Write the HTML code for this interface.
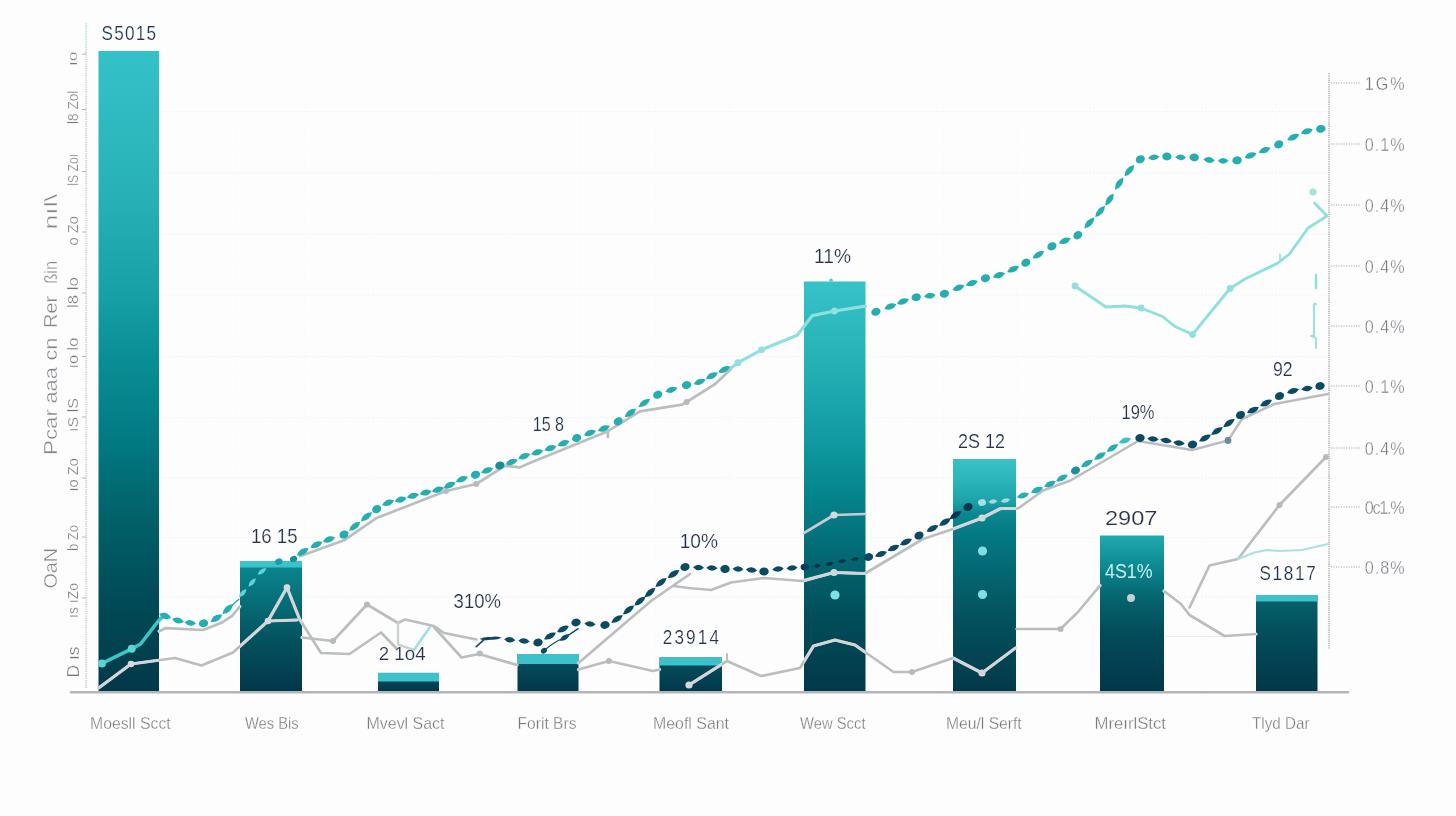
<!DOCTYPE html>
<html lang="en"><head><meta charset="utf-8"><title>Chart</title>
<style>
html,body{margin:0;padding:0;background:#fdfdfd;}
body{width:1456px;height:816px;overflow:hidden;}
svg{display:block;}
text{font-family:"Liberation Sans",sans-serif;}
.v{fill:#25334a;font-size:19.5px;stroke:#fdfdfd;stroke-width:0.2px;}
.x{fill:#777b7f;font-size:17px;stroke:#fdfdfd;stroke-width:0.3px;}
.r{fill:#6f757c;font-size:18px;stroke:#fdfdfd;stroke-width:0.4px;}
.t{fill:#71767b;font-size:14.5px;stroke:#fdfdfd;stroke-width:0.3px;}
.ti{fill:#80858a;font-size:18.5px;stroke:#fdfdfd;stroke-width:0.35px;}
</style></head><body>
<svg width="1456" height="816" viewBox="0 0 1456 816" role="img" aria-label="Bar and line chart">
<defs>
<linearGradient id="gTall" x1="0" y1="0" x2="0" y2="1"><stop offset="0" stop-color="#35c1c8"/><stop offset="0.22" stop-color="#28b2b8"/><stop offset="0.37" stop-color="#18a2a8"/><stop offset="0.48" stop-color="#0a8e95"/><stop offset="0.6" stop-color="#027b83"/><stop offset="0.73" stop-color="#016169"/><stop offset="0.855" stop-color="#004b57"/><stop offset="1" stop-color="#02394a"/></linearGradient>
<linearGradient id="gTall6" x1="0" y1="0" x2="0" y2="1"><stop offset="0" stop-color="#37c1c8"/><stop offset="0.175" stop-color="#28b3b9"/><stop offset="0.394" stop-color="#1099a0"/><stop offset="0.511" stop-color="#05868e"/><stop offset="0.65" stop-color="#036c76"/><stop offset="0.82" stop-color="#014d59"/><stop offset="1" stop-color="#02394a"/></linearGradient>
<linearGradient id="g7" x1="0" y1="0" x2="0" y2="1"><stop offset="0" stop-color="#3ac1c7"/><stop offset="0.1" stop-color="#2ab3b9"/><stop offset="0.18" stop-color="#1ea2a9"/><stop offset="0.235" stop-color="#0b888f"/><stop offset="0.32" stop-color="#037a83"/><stop offset="0.42" stop-color="#046e78"/><stop offset="0.6" stop-color="#035a66"/><stop offset="0.72" stop-color="#034e5b"/><stop offset="1" stop-color="#02394a"/></linearGradient>
<linearGradient id="g8" x1="0" y1="0" x2="0" y2="1"><stop offset="0" stop-color="#21aab1"/><stop offset="0.16" stop-color="#0f8f97"/><stop offset="0.4" stop-color="#05646f"/><stop offset="0.63" stop-color="#034b59"/><stop offset="1" stop-color="#02374a"/></linearGradient>
<linearGradient id="gS" x1="0" y1="0" x2="0" y2="1"><stop offset="0" stop-color="#0a8991"/><stop offset="0.3" stop-color="#066f79"/><stop offset="0.6" stop-color="#04525f"/><stop offset="1" stop-color="#02374a"/></linearGradient>
<linearGradient id="gS9" x1="0" y1="0" x2="0" y2="1"><stop offset="0" stop-color="#06646e"/><stop offset="0.45" stop-color="#034b58"/><stop offset="1" stop-color="#02374a"/></linearGradient>
<linearGradient id="gXS" x1="0" y1="0" x2="0" y2="1"><stop offset="0" stop-color="#06525f"/><stop offset="1" stop-color="#02374a"/></linearGradient>
</defs>
<rect width="1456" height="816" fill="#fdfdfd"/>
<line x1="162" y1="111.5" x2="1326" y2="111.5" stroke="#f1f1f1" stroke-width="1" stroke-dasharray="1.5 2"/>
<line x1="162" y1="172.8" x2="1326" y2="172.8" stroke="#f1f1f1" stroke-width="1" stroke-dasharray="1.5 2"/>
<line x1="162" y1="234" x2="1326" y2="234" stroke="#f1f1f1" stroke-width="1" stroke-dasharray="1.5 2"/>
<line x1="162" y1="295" x2="1326" y2="295" stroke="#f1f1f1" stroke-width="1" stroke-dasharray="1.5 2"/>
<line x1="162" y1="356.6" x2="1326" y2="356.6" stroke="#f1f1f1" stroke-width="1" stroke-dasharray="1.5 2"/>
<line x1="162" y1="417.7" x2="1326" y2="417.7" stroke="#f1f1f1" stroke-width="1" stroke-dasharray="1.5 2"/>
<line x1="162" y1="478" x2="1326" y2="478" stroke="#f1f1f1" stroke-width="1" stroke-dasharray="1.5 2"/>
<line x1="162" y1="537.5" x2="1326" y2="537.5" stroke="#f1f1f1" stroke-width="1" stroke-dasharray="1.5 2"/>
<line x1="162" y1="597" x2="1326" y2="597" stroke="#f1f1f1" stroke-width="1" stroke-dasharray="1.5 2"/>
<line x1="235" y1="100" x2="235" y2="690" stroke="#f8f8f8" stroke-width="1" stroke-dasharray="1.5 2"/>
<line x1="304.5" y1="100" x2="304.5" y2="690" stroke="#f8f8f8" stroke-width="1" stroke-dasharray="1.5 2"/>
<line x1="373" y1="100" x2="373" y2="690" stroke="#f8f8f8" stroke-width="1" stroke-dasharray="1.5 2"/>
<line x1="437" y1="100" x2="437" y2="690" stroke="#f8f8f8" stroke-width="1" stroke-dasharray="1.5 2"/>
<line x1="510" y1="100" x2="510" y2="690" stroke="#f8f8f8" stroke-width="1" stroke-dasharray="1.5 2"/>
<line x1="580" y1="100" x2="580" y2="690" stroke="#f8f8f8" stroke-width="1" stroke-dasharray="1.5 2"/>
<line x1="655" y1="100" x2="655" y2="690" stroke="#f8f8f8" stroke-width="1" stroke-dasharray="1.5 2"/>
<line x1="728" y1="100" x2="728" y2="690" stroke="#f8f8f8" stroke-width="1" stroke-dasharray="1.5 2"/>
<line x1="943" y1="100" x2="943" y2="690" stroke="#f8f8f8" stroke-width="1" stroke-dasharray="1.5 2"/>
<line x1="1017" y1="100" x2="1017" y2="690" stroke="#f8f8f8" stroke-width="1" stroke-dasharray="1.5 2"/>
<line x1="1090" y1="100" x2="1090" y2="690" stroke="#f8f8f8" stroke-width="1" stroke-dasharray="1.5 2"/>
<line x1="1166" y1="100" x2="1166" y2="690" stroke="#f8f8f8" stroke-width="1" stroke-dasharray="1.5 2"/>
<line x1="1202" y1="100" x2="1202" y2="690" stroke="#f8f8f8" stroke-width="1" stroke-dasharray="1.5 2"/>
<line x1="1276" y1="100" x2="1276" y2="690" stroke="#f8f8f8" stroke-width="1" stroke-dasharray="1.5 2"/>
<line x1="1166" y1="636.6" x2="1225" y2="636.6" stroke="#ebebeb" stroke-width="1"/>
<line x1="86" y1="23" x2="86" y2="52" stroke="#a6e2e3" stroke-width="1.3" stroke-dasharray="1.6 1"/>
<line x1="86" y1="52" x2="86" y2="688" stroke="#b2b6b9" stroke-width="1.1" stroke-dasharray="1.2 1.1"/>
<line x1="1329" y1="73" x2="1329" y2="649" stroke="#a3a8ad" stroke-width="1.3" stroke-dasharray="1.3 0.9"/>
<line x1="1331" y1="83" x2="1360" y2="83" stroke="#a4a9ad" stroke-width="1.1" stroke-dasharray="1.2 1.3"/>
<line x1="1331" y1="144" x2="1360" y2="144" stroke="#a4a9ad" stroke-width="1.1" stroke-dasharray="1.2 1.3"/>
<line x1="1331" y1="205" x2="1360" y2="205" stroke="#a4a9ad" stroke-width="1.1" stroke-dasharray="1.2 1.3"/>
<line x1="1331" y1="266" x2="1360" y2="266" stroke="#a4a9ad" stroke-width="1.1" stroke-dasharray="1.2 1.3"/>
<line x1="1331" y1="326" x2="1360" y2="326" stroke="#a4a9ad" stroke-width="1.1" stroke-dasharray="1.2 1.3"/>
<line x1="1331" y1="386" x2="1360" y2="386" stroke="#a4a9ad" stroke-width="1.1" stroke-dasharray="1.2 1.3"/>
<line x1="1331" y1="448" x2="1360" y2="448" stroke="#a4a9ad" stroke-width="1.1" stroke-dasharray="1.2 1.3"/>
<line x1="1331" y1="507" x2="1360" y2="507" stroke="#a4a9ad" stroke-width="1.1" stroke-dasharray="1.2 1.3"/>
<line x1="1331" y1="567" x2="1360" y2="567" stroke="#a4a9ad" stroke-width="1.1" stroke-dasharray="1.2 1.3"/>
<line x1="82" y1="54" x2="86" y2="54" stroke="#b4b8ba" stroke-width="1"/>
<line x1="82" y1="109.5" x2="86" y2="109.5" stroke="#b4b8ba" stroke-width="1"/>
<line x1="82" y1="171.5" x2="86" y2="171.5" stroke="#b4b8ba" stroke-width="1"/>
<line x1="82" y1="232" x2="86" y2="232" stroke="#b4b8ba" stroke-width="1"/>
<line x1="82" y1="293" x2="86" y2="293" stroke="#b4b8ba" stroke-width="1"/>
<line x1="82" y1="356.5" x2="86" y2="356.5" stroke="#b4b8ba" stroke-width="1"/>
<line x1="82" y1="417" x2="86" y2="417" stroke="#b4b8ba" stroke-width="1"/>
<line x1="82" y1="478" x2="86" y2="478" stroke="#b4b8ba" stroke-width="1"/>
<line x1="82" y1="537" x2="86" y2="537" stroke="#b4b8ba" stroke-width="1"/>
<line x1="82" y1="598" x2="86" y2="598" stroke="#b4b8ba" stroke-width="1"/>
<rect x="98.5" y="51" width="60.5" height="640.7" fill="url(#gTall)"/>
<rect x="240" y="561" width="62" height="130.70000000000005" fill="url(#gS)"/>
<rect x="240" y="561" width="62" height="6.5" fill="#3bc2ca"/>
<rect x="378" y="672.9" width="61" height="18.800000000000068" fill="url(#gXS)"/>
<rect x="378" y="672.9" width="61" height="8.6" fill="#3bc2ca"/>
<rect x="517.5" y="654" width="61.0" height="37.700000000000045" fill="url(#gXS)"/>
<rect x="517.5" y="654" width="61.0" height="10" fill="#3bc2ca"/>
<rect x="659.5" y="657.5" width="62.5" height="34.200000000000045" fill="url(#gXS)"/>
<rect x="659.5" y="657.5" width="62.5" height="8" fill="#3bc2ca"/>
<rect x="804" y="281.5" width="61.5" height="410.20000000000005" fill="url(#gTall6)"/>
<rect x="953" y="459" width="63" height="232.70000000000005" fill="url(#g7)"/>
<rect x="1100" y="535.5" width="64" height="156.20000000000005" fill="url(#g8)"/>
<rect x="1256" y="595" width="61.5" height="96.70000000000005" fill="url(#gS9)"/>
<rect x="1256" y="595" width="61.5" height="6.5" fill="#3bc2ca"/>
<line x1="71" y1="692.3" x2="1348" y2="692.3" stroke="#b3b6b8" stroke-width="2.4" stroke-linecap="round"/>
<polyline points="159.1,631.2 166.0,628.1 203.2,630.0 221.4,622.8 232.0,616.0 239.8,606.5" fill="none" stroke="#bbbebf" stroke-width="2.7" stroke-linejoin="round" stroke-linecap="round" />
<polyline points="300.0,556.3 344.0,540.3 376.0,518.3 446.0,491.0 476.3,484.0 505.0,465.8 520.0,467.4 527.3,464.0 607.9,431.2 639.8,411.4 682.3,404.6 686.6,402.0 715.2,384.0 731.0,369.0" fill="none" stroke="#bbbebf" stroke-width="2.7" stroke-linejoin="round" stroke-linecap="round" />
<polyline points="607.9,431.2 607.9,437.0" fill="none" stroke="#bbbebf" stroke-width="2.7" stroke-linejoin="round" stroke-linecap="round" />
<polyline points="98.6,688.0 131.0,664.0 175.0,658.0 201.5,665.5 233.0,652.5 268.0,621.0 287.0,587.5 299.5,619.0 321.0,653.0 349.5,654.0 381.0,632.5 397.0,649.0" fill="none" stroke="#bbbebf" stroke-width="2.7" stroke-linejoin="round" stroke-linecap="round" />
<polyline points="268.0,621.0 297.0,620.0" fill="none" stroke="#bbbebf" stroke-width="2.7" stroke-linejoin="round" stroke-linecap="round" />
<polyline points="302.0,637.5 333.0,641.0 367.0,604.5 398.0,623.0 405.0,619.5 434.0,626.0 444.0,633.0 476.5,639.5" fill="none" stroke="#bbbebf" stroke-width="2.7" stroke-linejoin="round" stroke-linecap="round" />
<polyline points="398.0,623.0 398.0,644.5 414.0,650.0" fill="none" stroke="#ccd2d3" stroke-width="2.4" stroke-linejoin="round" stroke-linecap="round" />
<polyline points="414.0,650.0 430.0,627.0" fill="none" stroke="#9fe0df" stroke-width="2.6" stroke-linejoin="round" stroke-linecap="round" />
<polyline points="434.0,627.0 461.5,657.5 479.0,654.0 517.0,665.0" fill="none" stroke="#bbbebf" stroke-width="2.7" stroke-linejoin="round" stroke-linecap="round" />
<polyline points="578.5,669.5 609.0,661.0 653.0,671.0 659.5,669.5" fill="none" stroke="#bbbebf" stroke-width="2.7" stroke-linejoin="round" stroke-linecap="round" />
<polyline points="578.5,663.0 651.0,601.0 690.0,574.0" fill="none" stroke="#bbbebf" stroke-width="2.7" stroke-linejoin="round" stroke-linecap="round" />
<polyline points="673.5,586.0 688.5,588.0 711.0,590.0 731.0,582.5 764.0,578.0 802.0,581.0 834.0,572.5 865.0,573.5 923.0,539.0 953.0,529.0 982.0,518.0 1000.5,508.5 1018.0,508.5 1043.0,490.5" fill="none" stroke="#bbbebf" stroke-width="2.7" stroke-linejoin="round" stroke-linecap="round" />
<polyline points="1043.0,490.5 1070.5,480.5 1092.0,468.0 1138.0,441.0 1192.0,450.0 1228.0,440.5 1242.0,419.0 1274.5,404.0 1328.0,394.0" fill="none" stroke="#bbbebf" stroke-width="2.5" stroke-linejoin="round" stroke-linecap="round" />
<polyline points="689.0,685.0 727.0,661.0 761.0,676.0 800.0,668.0 813.5,646.0 835.0,640.0 855.0,645.0 893.5,672.0 912.0,672.0 953.0,658.0 982.0,673.0 1015.5,648.0" fill="none" stroke="#bbbebf" stroke-width="2.7" stroke-linejoin="round" stroke-linecap="round" />
<polyline points="727.0,661.0 727.0,654.0" fill="none" stroke="#bbbebf" stroke-width="2" stroke-linejoin="round" stroke-linecap="round" />
<polyline points="1017.0,629.0 1060.5,629.0 1078.0,612.0 1100.0,585.5" fill="none" stroke="#bbbebf" stroke-width="2.7" stroke-linejoin="round" stroke-linecap="round" />
<polyline points="1164.0,591.0 1181.0,604.0 1189.5,615.0 1224.5,636.0 1256.0,634.0" fill="none" stroke="#bbbebf" stroke-width="2.7" stroke-linejoin="round" stroke-linecap="round" />
<polyline points="1189.5,607.5 1209.5,565.5 1238.0,559.0 1279.5,505.0 1326.0,457.0" fill="none" stroke="#bbbebf" stroke-width="2.7" stroke-linejoin="round" stroke-linecap="round" />
<polyline points="804.0,533.0 834.0,515.0 865.5,514.0" fill="none" stroke="#c5cbd0" stroke-width="2.7" stroke-linejoin="round" stroke-linecap="round" />
<polyline points="804.0,581.0 834.0,572.5 865.0,573.5" fill="none" stroke="#c5cbd0" stroke-width="2.7" stroke-linejoin="round" stroke-linecap="round" />
<polyline points="102.0,663.4 131.7,648.8 140.6,644.0 158.7,620.5 162.0,617.5" fill="none" stroke="#3cc4c6" stroke-width="3.6" stroke-linejoin="round" stroke-linecap="round" />
<polyline points="731.0,368.0 738.0,362.7 761.5,349.8 797.2,335.3 812.4,315.6 834.5,311.0 865.6,306.2" fill="none" stroke="#8fe0dc" stroke-width="3.2" stroke-linejoin="round" stroke-linecap="round" />
<polyline points="1075.0,286.0 1106.0,307.0 1125.0,306.0 1141.0,308.0 1162.5,316.5 1175.0,326.5 1192.5,334.5 1230.0,288.5 1245.0,279.0 1278.0,263.0 1289.5,254.0 1308.0,228.0 1327.0,216.0 1314.5,203.0" fill="none" stroke="#8fe0dc" stroke-width="2.8" stroke-linejoin="round" stroke-linecap="round" />
<polyline points="1238.0,559.0 1254.5,552.5 1267.0,550.0 1279.5,551.0 1302.0,550.0 1328.0,544.0" fill="none" stroke="#a7e3df" stroke-width="2" stroke-linejoin="round" stroke-linecap="round" />
<polyline points="1316.0,275.0 1316.0,288.0" fill="none" stroke="#8fe0dc" stroke-width="2.4" stroke-linejoin="round" stroke-linecap="round" />
<polyline points="1316.0,304.0 1314.0,304.0 1314.0,336.0 1311.0,336.0 1316.0,338.0 1316.0,348.0" fill="none" stroke="#8fe0dc" stroke-width="1.8" stroke-linejoin="round" stroke-linecap="round" />
<circle cx="131.0" cy="664.0" r="3.0" fill="#b7babb" />
<circle cx="268.0" cy="621.0" r="3.0" fill="#b7babb" />
<circle cx="287.0" cy="587.5" r="3.0" fill="#b7babb" />
<circle cx="333.0" cy="641.0" r="3.0" fill="#b7babb" />
<circle cx="367.0" cy="604.5" r="3.0" fill="#b7babb" />
<circle cx="446.0" cy="491.0" r="3.0" fill="#b7babb" />
<circle cx="476.3" cy="484.0" r="3.0" fill="#b7babb" />
<circle cx="479.8" cy="653.4" r="3.0" fill="#b7babb" />
<circle cx="608.9" cy="661.0" r="3.0" fill="#b7babb" />
<circle cx="686.6" cy="402.0" r="3.0" fill="#b7babb" />
<circle cx="912.0" cy="672.0" r="3.0" fill="#b7babb" />
<circle cx="1060.5" cy="629.0" r="3.0" fill="#b7babb" />
<circle cx="1279.5" cy="505.0" r="3.0" fill="#b7babb" />
<circle cx="1326.0" cy="457.0" r="3.0" fill="#b7babb" />
<circle cx="834.0" cy="515.0" r="3.6" fill="#d5dadd" />
<circle cx="834.0" cy="572.5" r="3.6" fill="#d5dadd" />
<circle cx="982.0" cy="518.0" r="3.6" fill="#d5dadd" />
<circle cx="982.0" cy="673.0" r="3.6" fill="#d5dadd" />
<circle cx="689.0" cy="685.0" r="3.6" fill="#d5dadd" />
<circle cx="1228.0" cy="440.5" r="3.4" fill="#6d8a98" />
<circle cx="102.0" cy="663.4" r="4" fill="#5fd3d4" />
<circle cx="131.7" cy="648.8" r="4" fill="#5fd3d4" />
<circle cx="738.0" cy="362.7" r="3.4" fill="#93dfdb" />
<circle cx="761.5" cy="349.8" r="3.4" fill="#93dfdb" />
<circle cx="834.5" cy="311.0" r="3.4" fill="#93dfdb" />
<circle cx="1075.0" cy="286.0" r="3.4" fill="#93dfdb" />
<circle cx="1141.0" cy="308.0" r="3.4" fill="#93dfdb" />
<circle cx="1192.5" cy="334.5" r="3.4" fill="#93dfdb" />
<circle cx="1230.0" cy="288.5" r="3.4" fill="#93dfdb" />
<circle cx="1313.0" cy="192.0" r="3.6" fill="#a5e3dc" />
<clipPath id="barsclip"><rect x="98.5" y="51" width="60.5" height="640.7"/><rect x="240" y="561" width="62" height="130.70000000000005"/><rect x="378" y="672.9" width="61" height="18.800000000000068"/><rect x="517.5" y="654" width="61.0" height="37.700000000000045"/><rect x="659.5" y="657.5" width="62.5" height="34.200000000000045"/><rect x="804" y="281.5" width="61.5" height="410.20000000000005"/><rect x="953" y="459" width="63" height="232.70000000000005"/><rect x="1100" y="535.5" width="64" height="156.20000000000005"/><rect x="1256" y="595" width="61.5" height="96.70000000000005"/></clipPath>
<g clip-path="url(#barsclip)"><polyline points="159.1,631.2 166.0,628.1 203.2,630.0 221.4,622.8 232.0,616.0 239.8,606.5" fill="none" stroke="#d2d6d9" stroke-width="3.2" stroke-linejoin="round" stroke-linecap="round"/><polyline points="300.0,556.3 344.0,540.3 376.0,518.3 446.0,491.0 476.3,484.0 505.0,465.8 520.0,467.4 527.3,464.0 607.9,431.2 639.8,411.4 682.3,404.6 686.6,402.0 715.2,384.0 731.0,369.0" fill="none" stroke="#d2d6d9" stroke-width="3.2" stroke-linejoin="round" stroke-linecap="round"/><polyline points="607.9,431.2 607.9,437.0" fill="none" stroke="#d2d6d9" stroke-width="3.2" stroke-linejoin="round" stroke-linecap="round"/><polyline points="98.6,688.0 131.0,664.0 175.0,658.0 201.5,665.5 233.0,652.5 268.0,621.0 287.0,587.5 299.5,619.0 321.0,653.0 349.5,654.0 381.0,632.5 397.0,649.0" fill="none" stroke="#d2d6d9" stroke-width="3.2" stroke-linejoin="round" stroke-linecap="round"/><polyline points="268.0,621.0 297.0,620.0" fill="none" stroke="#d2d6d9" stroke-width="3.2" stroke-linejoin="round" stroke-linecap="round"/><polyline points="302.0,637.5 333.0,641.0 367.0,604.5 398.0,623.0 405.0,619.5 434.0,626.0 444.0,633.0 476.5,639.5" fill="none" stroke="#d2d6d9" stroke-width="3.2" stroke-linejoin="round" stroke-linecap="round"/><polyline points="434.0,627.0 461.5,657.5 479.0,654.0 517.0,665.0" fill="none" stroke="#d2d6d9" stroke-width="3.2" stroke-linejoin="round" stroke-linecap="round"/><polyline points="578.5,669.5 609.0,661.0 653.0,671.0 659.5,669.5" fill="none" stroke="#d2d6d9" stroke-width="3.2" stroke-linejoin="round" stroke-linecap="round"/><polyline points="578.5,663.0 651.0,601.0 690.0,574.0" fill="none" stroke="#d2d6d9" stroke-width="3.2" stroke-linejoin="round" stroke-linecap="round"/><polyline points="673.5,586.0 688.5,588.0 711.0,590.0 731.0,582.5 764.0,578.0 802.0,581.0 834.0,572.5 865.0,573.5 923.0,539.0 953.0,529.0 982.0,518.0 1000.5,508.5 1018.0,508.5 1043.0,490.5" fill="none" stroke="#d2d6d9" stroke-width="3.2" stroke-linejoin="round" stroke-linecap="round"/><polyline points="1043.0,490.5 1070.5,480.5 1092.0,468.0 1138.0,441.0 1192.0,450.0 1228.0,440.5 1242.0,419.0 1274.5,404.0 1328.0,394.0" fill="none" stroke="#d2d6d9" stroke-width="3.0" stroke-linejoin="round" stroke-linecap="round"/><polyline points="689.0,685.0 727.0,661.0 761.0,676.0 800.0,668.0 813.5,646.0 835.0,640.0 855.0,645.0 893.5,672.0 912.0,672.0 953.0,658.0 982.0,673.0 1015.5,648.0" fill="none" stroke="#d2d6d9" stroke-width="3.2" stroke-linejoin="round" stroke-linecap="round"/><polyline points="727.0,661.0 727.0,654.0" fill="none" stroke="#d2d6d9" stroke-width="2.5" stroke-linejoin="round" stroke-linecap="round"/><polyline points="1017.0,629.0 1060.5,629.0 1078.0,612.0 1100.0,585.5" fill="none" stroke="#d2d6d9" stroke-width="3.2" stroke-linejoin="round" stroke-linecap="round"/><polyline points="1164.0,591.0 1181.0,604.0 1189.5,615.0 1224.5,636.0 1256.0,634.0" fill="none" stroke="#d2d6d9" stroke-width="3.2" stroke-linejoin="round" stroke-linecap="round"/><polyline points="1189.5,607.5 1209.5,565.5 1238.0,559.0 1279.5,505.0 1326.0,457.0" fill="none" stroke="#d2d6d9" stroke-width="3.2" stroke-linejoin="round" stroke-linecap="round"/><circle cx="131.0" cy="664.0" r="3.3" fill="#d6dadf"/><circle cx="268.0" cy="621.0" r="3.3" fill="#d6dadf"/><circle cx="287.0" cy="587.5" r="3.3" fill="#d6dadf"/><circle cx="333.0" cy="641.0" r="3.3" fill="#d6dadf"/><circle cx="367.0" cy="604.5" r="3.3" fill="#d6dadf"/><circle cx="446.0" cy="491.0" r="3.3" fill="#d6dadf"/><circle cx="476.3" cy="484.0" r="3.3" fill="#d6dadf"/><circle cx="479.8" cy="653.4" r="3.3" fill="#d6dadf"/><circle cx="608.9" cy="661.0" r="3.3" fill="#d6dadf"/><circle cx="686.6" cy="402.0" r="3.3" fill="#d6dadf"/><circle cx="912.0" cy="672.0" r="3.3" fill="#d6dadf"/><circle cx="1060.5" cy="629.0" r="3.3" fill="#d6dadf"/><circle cx="1279.5" cy="505.0" r="3.3" fill="#d6dadf"/><circle cx="1326.0" cy="457.0" r="3.3" fill="#d6dadf"/></g>
<circle cx="831.0" cy="280.2" r="1.8" fill="#55cdd3" />
<polyline points="1280.0,254.0 1280.0,260.0" fill="none" stroke="#8fe0dc" stroke-width="1.6" stroke-linejoin="round" stroke-linecap="round" />
<circle cx="835.0" cy="595.0" r="4.6" fill="#7fe0e4" />
<circle cx="982.5" cy="551.0" r="4.6" fill="#7fe0e4" />
<circle cx="982.5" cy="594.5" r="4.6" fill="#7fe0e4" />
<circle cx="1131.0" cy="598.0" r="4" fill="#c8cfd2" />
<path d="M-6.3,0 Q0,-5.8 6.3,0 Q0,5.8 -6.3,0Z" fill="#25aeb0" transform="translate(165.2 616.0) rotate(19.2)"/>
<path d="M-6.1,0 Q0,-5.8 6.1,0 Q0,5.8 -6.1,0Z" fill="#25aeb0" transform="translate(178.1 620.5) rotate(15.2)"/>
<path d="M-5.7,0 Q0,-5.8 5.7,0 Q0,5.8 -5.7,0Z" fill="#25aeb0" transform="translate(190.3 622.8) rotate(6.3)"/>
<ellipse cx="203.5" cy="623.3" rx="4.7" ry="3.9" fill="#25aeb0" transform="rotate(-10.0 203.5 623.3)"/>
<path d="M-6.8,0 Q0,-5.8 6.8,0 Q0,5.8 -6.8,0Z" fill="#25aeb0" transform="translate(216.4 618.2) rotate(-30.3)"/>
<path d="M-7.4,0 Q0,-5.8 7.4,0 Q0,5.8 -7.4,0Z" fill="#25aeb0" transform="translate(227.8 609.1) rotate(-43.5)"/>
<path d="M-5.6,0 Q0,-4.3 5.6,0 Q0,4.3 -5.6,0Z" fill="#5dd3da" transform="translate(242.7 593.2) rotate(-47.6)"/>
<path d="M-5.6,0 Q0,-4.3 5.6,0 Q0,4.3 -5.6,0Z" fill="#5dd3da" transform="translate(252.1 582.5) rotate(-48.5)"/>
<path d="M-5.4,0 Q0,-4.3 5.4,0 Q0,4.3 -5.4,0Z" fill="#5dd3da" transform="translate(262.0 571.4) rotate(-38.1)"/>
<ellipse cx="278.8" cy="561.6" rx="3.7" ry="3.1" fill="#1b9ba6" transform="rotate(-21.4 278.8 561.6)"/>
<ellipse cx="293.6" cy="559.0" rx="3.7" ry="3.1" fill="#17909c" transform="rotate(-22.1 293.6 559.0)"/>
<path d="M-6.9,0 Q0,-5.8 6.9,0 Q0,5.8 -6.9,0Z" fill="#25aeb0" transform="translate(302.7 551.9) rotate(-32.1)"/>
<path d="M-6.6,0 Q0,-5.8 6.6,0 Q0,5.8 -6.6,0Z" fill="#25aeb0" transform="translate(316.4 544.7) rotate(-25.2)"/>
<path d="M-6.4,0 Q0,-5.8 6.4,0 Q0,5.8 -6.4,0Z" fill="#25aeb0" transform="translate(329.0 539.5) rotate(-20.3)"/>
<ellipse cx="344.0" cy="534.5" rx="4.7" ry="3.9" fill="#25aeb0" transform="rotate(-27.2 344.0 534.5)"/>
<path d="M-7.2,0 Q0,-5.8 7.2,0 Q0,5.8 -7.2,0Z" fill="#25aeb0" transform="translate(354.7 526.3) rotate(-38.5)"/>
<path d="M-7.2,0 Q0,-5.8 7.2,0 Q0,5.8 -7.2,0Z" fill="#25aeb0" transform="translate(366.4 516.7) rotate(-38.0)"/>
<ellipse cx="376.7" cy="509.1" rx="4.7" ry="3.9" fill="#25aeb0" transform="rotate(-32.6 376.7 509.1)"/>
<path d="M-6.5,0 Q0,-5.8 6.5,0 Q0,5.8 -6.5,0Z" fill="#25aeb0" transform="translate(388.1 502.8) rotate(-21.7)"/>
<path d="M-6.2,0 Q0,-5.8 6.2,0 Q0,5.8 -6.2,0Z" fill="#25aeb0" transform="translate(400.6 499.6) rotate(-15.8)"/>
<path d="M-6.2,0 Q0,-5.8 6.2,0 Q0,5.8 -6.2,0Z" fill="#25aeb0" transform="translate(412.9 495.8) rotate(-15.6)"/>
<path d="M-6.1,0 Q0,-5.8 6.1,0 Q0,5.8 -6.1,0Z" fill="#25aeb0" transform="translate(425.7 492.6) rotate(-13.7)"/>
<path d="M-6.3,0 Q0,-5.8 6.3,0 Q0,5.8 -6.3,0Z" fill="#25aeb0" transform="translate(438.0 489.7) rotate(-17.4)"/>
<path d="M-6.5,0 Q0,-5.8 6.5,0 Q0,5.8 -6.5,0Z" fill="#25aeb0" transform="translate(449.7 485.1) rotate(-23.7)"/>
<path d="M-6.5,0 Q0,-5.8 6.5,0 Q0,5.8 -6.5,0Z" fill="#25aeb0" transform="translate(461.9 479.2) rotate(-22.0)"/>
<ellipse cx="475.5" cy="474.7" rx="4.7" ry="3.9" fill="#25aeb0" transform="rotate(-19.2 475.5 474.7)"/>
<path d="M-6.4,0 Q0,-5.8 6.4,0 Q0,5.8 -6.4,0Z" fill="#25aeb0" transform="translate(487.2 470.4) rotate(-20.7)"/>
<ellipse cx="499.8" cy="465.5" rx="4.7" ry="3.9" fill="#178f9b" transform="rotate(-18.9 499.8 465.5)"/>
<path d="M-6.4,0 Q0,-5.8 6.4,0 Q0,5.8 -6.4,0Z" fill="#25aeb0" transform="translate(511.7 462.0) rotate(-20.8)"/>
<path d="M-6.4,0 Q0,-5.8 6.4,0 Q0,5.8 -6.4,0Z" fill="#25aeb0" transform="translate(524.3 456.2) rotate(-20.6)"/>
<path d="M-6.2,0 Q0,-5.8 6.2,0 Q0,5.8 -6.2,0Z" fill="#25aeb0" transform="translate(537.2 452.4) rotate(-17.0)"/>
<path d="M-6.3,0 Q0,-5.8 6.3,0 Q0,5.8 -6.3,0Z" fill="#25aeb0" transform="translate(550.4 448.2) rotate(-19.1)"/>
<path d="M-6.4,0 Q0,-5.8 6.4,0 Q0,5.8 -6.4,0Z" fill="#25aeb0" transform="translate(563.5 443.3) rotate(-21.2)"/>
<ellipse cx="576.7" cy="438.0" rx="4.7" ry="3.9" fill="#25aeb0" transform="rotate(-21.2 576.7 438.0)"/>
<path d="M-6.4,0 Q0,-5.8 6.4,0 Q0,5.8 -6.4,0Z" fill="#25aeb0" transform="translate(590.0 433.0) rotate(-19.5)"/>
<path d="M-6.5,0 Q0,-5.8 6.5,0 Q0,5.8 -6.5,0Z" fill="#25aeb0" transform="translate(603.8 428.4) rotate(-22.5)"/>
<ellipse cx="618.2" cy="421.3" rx="4.7" ry="3.9" fill="#25aeb0" transform="rotate(-30.2 618.2 421.3)"/>
<path d="M-7.0,0 Q0,-5.8 7.0,0 Q0,5.8 -7.0,0Z" fill="#25aeb0" transform="translate(630.4 412.9) rotate(-35.0)"/>
<path d="M-7.0,0 Q0,-5.8 7.0,0 Q0,5.8 -7.0,0Z" fill="#25aeb0" transform="translate(644.3 403.0) rotate(-33.7)"/>
<ellipse cx="657.7" cy="394.7" rx="4.7" ry="3.9" fill="#25aeb0" transform="rotate(-26.0 657.7 394.7)"/>
<path d="M-6.3,0 Q0,-5.8 6.3,0 Q0,5.8 -6.3,0Z" fill="#25aeb0" transform="translate(671.4 389.8) rotate(-18.4)"/>
<ellipse cx="686.6" cy="385.1" rx="4.7" ry="3.9" fill="#25aeb0" transform="rotate(-15.8 686.6 385.1)"/>
<path d="M-6.4,0 Q0,-5.8 6.4,0 Q0,5.8 -6.4,0Z" fill="#25aeb0" transform="translate(699.7 381.8) rotate(-20.2)"/>
<path d="M-6.7,0 Q0,-5.8 6.7,0 Q0,5.8 -6.7,0Z" fill="#25aeb0" transform="translate(711.9 375.8) rotate(-26.6)"/>
<path d="M-6.7,0 Q0,-5.8 6.7,0 Q0,5.8 -6.7,0Z" fill="#25aeb0" transform="translate(724.3 369.5) rotate(-26.9)"/>
<ellipse cx="875.9" cy="311.8" rx="4.7" ry="3.9" fill="#25aeb0" transform="rotate(-20.1 875.9 311.8)"/>
<path d="M-6.4,0 Q0,-5.8 6.4,0 Q0,5.8 -6.4,0Z" fill="#25aeb0" transform="translate(890.4 306.5) rotate(-20.8)"/>
<path d="M-6.4,0 Q0,-5.8 6.4,0 Q0,5.8 -6.4,0Z" fill="#25aeb0" transform="translate(903.0 301.5) rotate(-19.8)"/>
<ellipse cx="916.2" cy="297.2" rx="4.7" ry="3.9" fill="#25aeb0" transform="rotate(-12.2 916.2 297.2)"/>
<path d="M-5.8,0 Q0,-5.8 5.8,0 Q0,5.8 -5.8,0Z" fill="#25aeb0" transform="translate(929.9 295.7) rotate(-7.1)"/>
<ellipse cx="944.4" cy="293.7" rx="4.7" ry="3.9" fill="#25aeb0" transform="rotate(-15.4 944.4 293.7)"/>
<path d="M-6.4,0 Q0,-5.8 6.4,0 Q0,5.8 -6.4,0Z" fill="#25aeb0" transform="translate(958.5 287.8) rotate(-21.1)"/>
<path d="M-6.4,0 Q0,-5.8 6.4,0 Q0,5.8 -6.4,0Z" fill="#25aeb0" transform="translate(971.9 283.1) rotate(-19.6)"/>
<ellipse cx="985.4" cy="278.2" rx="4.7" ry="3.9" fill="#25aeb0" transform="rotate(-16.3 985.4 278.2)"/>
<path d="M-6.3,0 Q0,-5.8 6.3,0 Q0,5.8 -6.3,0Z" fill="#25aeb0" transform="translate(999.0 275.2) rotate(-18.1)"/>
<path d="M-6.6,0 Q0,-5.8 6.6,0 Q0,5.8 -6.6,0Z" fill="#25aeb0" transform="translate(1013.2 269.1) rotate(-25.0)"/>
<ellipse cx="1025.8" cy="262.7" rx="4.7" ry="3.9" fill="#25aeb0" transform="rotate(-29.8 1025.8 262.7)"/>
<path d="M-6.9,0 Q0,-5.8 6.9,0 Q0,5.8 -6.9,0Z" fill="#25aeb0" transform="translate(1038.3 254.7) rotate(-32.1)"/>
<ellipse cx="1051.9" cy="246.3" rx="4.7" ry="3.9" fill="#25aeb0" transform="rotate(-27.8 1051.9 246.3)"/>
<path d="M-6.5,0 Q0,-5.8 6.5,0 Q0,5.8 -6.5,0Z" fill="#25aeb0" transform="translate(1064.8 240.7) rotate(-23.2)"/>
<ellipse cx="1077.8" cy="235.2" rx="4.7" ry="3.9" fill="#25aeb0" transform="rotate(-35.7 1077.8 235.2)"/>
<path d="M-7.4,0 Q0,-5.8 7.4,0 Q0,5.8 -7.4,0Z" fill="#25aeb0" transform="translate(1089.4 223.0) rotate(-46.7)"/>
<path d="M-7.4,0 Q0,-5.8 7.4,0 Q0,5.8 -7.4,0Z" fill="#25aeb0" transform="translate(1100.2 211.4) rotate(-49.5)"/>
<path d="M-7.4,0 Q0,-5.8 7.4,0 Q0,5.8 -7.4,0Z" fill="#25aeb0" transform="translate(1109.5 199.5) rotate(-55.6)"/>
<path d="M-7.4,0 Q0,-5.8 7.4,0 Q0,5.8 -7.4,0Z" fill="#25aeb0" transform="translate(1119.2 183.6) rotate(-55.4)"/>
<path d="M-7.4,0 Q0,-5.8 7.4,0 Q0,5.8 -7.4,0Z" fill="#25aeb0" transform="translate(1129.4 170.6) rotate(-49.0)"/>
<ellipse cx="1140.3" cy="159.3" rx="4.7" ry="3.9" fill="#25aeb0" transform="rotate(-28.5 1140.3 159.3)"/>
<path d="M-5.7,0 Q0,-5.8 5.7,0 Q0,5.8 -5.7,0Z" fill="#25aeb0" transform="translate(1153.7 157.4) rotate(-6.0)"/>
<ellipse cx="1166.9" cy="156.5" rx="4.7" ry="3.9" fill="#25aeb0" transform="rotate(-0.2 1166.9 156.5)"/>
<path d="M-5.5,0 Q0,-5.8 5.5,0 Q0,5.8 -5.5,0Z" fill="#25aeb0" transform="translate(1180.6 157.3) rotate(1.9)"/>
<ellipse cx="1194.2" cy="157.4" rx="4.7" ry="3.9" fill="#25aeb0" transform="rotate(5.4 1194.2 157.4)"/>
<path d="M-5.7,0 Q0,-5.8 5.7,0 Q0,5.8 -5.7,0Z" fill="#25aeb0" transform="translate(1209.1 160.0) rotate(6.7)"/>
<path d="M-5.4,0 Q0,-5.8 5.4,0 Q0,5.8 -5.4,0Z" fill="#25aeb0" transform="translate(1223.2 160.8) rotate(0.6)"/>
<ellipse cx="1237.1" cy="160.3" rx="4.7" ry="3.9" fill="#25aeb0" transform="rotate(-10.9 1237.1 160.3)"/>
<path d="M-6.4,0 Q0,-5.8 6.4,0 Q0,5.8 -6.4,0Z" fill="#25aeb0" transform="translate(1250.6 155.5) rotate(-20.4)"/>
<path d="M-6.4,0 Q0,-5.8 6.4,0 Q0,5.8 -6.4,0Z" fill="#25aeb0" transform="translate(1264.6 150.1) rotate(-21.6)"/>
<ellipse cx="1278.7" cy="144.4" rx="4.7" ry="3.9" fill="#25aeb0" transform="rotate(-24.2 1278.7 144.4)"/>
<path d="M-6.6,0 Q0,-5.8 6.6,0 Q0,5.8 -6.6,0Z" fill="#25aeb0" transform="translate(1293.3 137.2) rotate(-24.7)"/>
<path d="M-6.2,0 Q0,-5.8 6.2,0 Q0,5.8 -6.2,0Z" fill="#25aeb0" transform="translate(1306.9 131.4) rotate(-16.8)"/>
<ellipse cx="1320.8" cy="128.9" rx="4.7" ry="3.9" fill="#25aeb0" transform="rotate(-10.2 1320.8 128.9)"/>
<polyline points="227.8,609.1 238.9,599.3" fill="none" stroke="#25aeb0" stroke-width="1.4" stroke-linejoin="round" stroke-linecap="round" />
<path d="M-5.6,0 Q0,-5.6 5.6,0 Q0,5.6 -5.6,0Z" fill="#0a4a63" transform="translate(509.7 639.8) rotate(4.8)"/>
<path d="M-5.7,0 Q0,-5.6 5.7,0 Q0,5.6 -5.7,0Z" fill="#0a4a63" transform="translate(524.0 641.0) rotate(5.4)"/>
<ellipse cx="538.0" cy="642.5" rx="4.7" ry="3.9" fill="#0a4a63" transform="rotate(-10.9 538.0 642.5)"/>
<path d="M-6.8,0 Q0,-5.6 6.8,0 Q0,5.6 -6.8,0Z" fill="#0a4a63" transform="translate(550.0 636.0) rotate(-28.4)"/>
<path d="M-6.7,0 Q0,-5.6 6.7,0 Q0,5.6 -6.7,0Z" fill="#0a4a63" transform="translate(563.0 629.0) rotate(-27.4)"/>
<ellipse cx="576.0" cy="622.5" rx="4.7" ry="3.9" fill="#0a4a63" transform="rotate(-10.5 576.0 622.5)"/>
<path d="M-5.6,0 Q0,-5.6 5.6,0 Q0,5.6 -5.6,0Z" fill="#0a4a63" transform="translate(590.0 624.0) rotate(4.9)"/>
<ellipse cx="605.0" cy="625.0" rx="4.7" ry="3.9" fill="#0a4a63" transform="rotate(-10.5 605.0 625.0)"/>
<path d="M-6.9,0 Q0,-5.6 6.9,0 Q0,5.6 -6.9,0Z" fill="#0a4a63" transform="translate(617.0 619.0) rotate(-32.6)"/>
<path d="M-7.2,0 Q0,-5.6 7.2,0 Q0,5.6 -7.2,0Z" fill="#0a4a63" transform="translate(628.5 610.0) rotate(-38.0)"/>
<path d="M-7.2,0 Q0,-5.6 7.2,0 Q0,5.6 -7.2,0Z" fill="#0a4a63" transform="translate(640.0 601.0) rotate(-39.1)"/>
<path d="M-7.3,0 Q0,-5.6 7.3,0 Q0,5.6 -7.3,0Z" fill="#0a4a63" transform="translate(650.0 592.5) rotate(-41.4)"/>
<path d="M-7.2,0 Q0,-5.6 7.2,0 Q0,5.6 -7.2,0Z" fill="#0a4a63" transform="translate(661.0 582.5) rotate(-38.2)"/>
<path d="M-7.0,0 Q0,-5.6 7.0,0 Q0,5.6 -7.0,0Z" fill="#0a4a63" transform="translate(673.5 574.0) rotate(-32.9)"/>
<ellipse cx="685.0" cy="567.0" rx="4.7" ry="3.9" fill="#0a4a63" transform="rotate(-14.6 685.0 567.0)"/>
<path d="M-5.5,0 Q0,-5.6 5.5,0 Q0,5.6 -5.5,0Z" fill="#0a4a63" transform="translate(698.5 567.5) rotate(2.1)"/>
<path d="M-5.6,0 Q0,-5.6 5.6,0 Q0,5.6 -5.6,0Z" fill="#0a4a63" transform="translate(712.0 568.0) rotate(3.2)"/>
<ellipse cx="725.0" cy="569.0" rx="4.7" ry="3.9" fill="#0a4a63" transform="rotate(2.2 725.0 569.0)"/>
<path d="M-5.5,0 Q0,-5.6 5.5,0 Q0,5.6 -5.5,0Z" fill="#0a4a63" transform="translate(738.0 569.0) rotate(2.2)"/>
<path d="M-5.7,0 Q0,-5.6 5.7,0 Q0,5.6 -5.7,0Z" fill="#0a4a63" transform="translate(751.5 570.0) rotate(5.5)"/>
<ellipse cx="764.0" cy="571.5" rx="4.7" ry="3.9" fill="#0a4a63" transform="rotate(-2.2 764.0 571.5)"/>
<path d="M-5.8,0 Q0,-5.6 5.8,0 Q0,5.6 -5.8,0Z" fill="#0a4a63" transform="translate(778.0 569.0) rotate(-7.1)"/>
<path d="M-5.6,0 Q0,-5.6 5.6,0 Q0,5.6 -5.6,0Z" fill="#0a4a63" transform="translate(792.0 568.0) rotate(-4.5)"/>
<ellipse cx="804.8" cy="566.9" rx="4.2" ry="3.5" fill="#063e55" transform="rotate(-5.0 804.8 566.9)"/>
<path d="M-4.1,0 Q0,-4.0 4.1,0 Q0,4.0 -4.1,0Z" fill="#04324a" transform="translate(817.0 565.8) rotate(-6.9)"/>
<path d="M-4.3,0 Q0,-4.0 4.3,0 Q0,4.0 -4.3,0Z" fill="#04324a" transform="translate(829.6 563.9) rotate(-10.6)"/>
<path d="M-4.3,0 Q0,-4.0 4.3,0 Q0,4.0 -4.3,0Z" fill="#04324a" transform="translate(842.1 561.1) rotate(-10.6)"/>
<path d="M-4.2,0 Q0,-4.0 4.2,0 Q0,4.0 -4.2,0Z" fill="#04324a" transform="translate(854.8 559.2) rotate(-8.8)"/>
<ellipse cx="868.5" cy="557.0" rx="4.7" ry="3.9" fill="#0a4a63" transform="rotate(-11.2 868.5 557.0)"/>
<path d="M-6.4,0 Q0,-5.6 6.4,0 Q0,5.6 -6.4,0Z" fill="#0a4a63" transform="translate(881.0 554.0) rotate(-19.8)"/>
<path d="M-6.6,0 Q0,-5.6 6.6,0 Q0,5.6 -6.6,0Z" fill="#0a4a63" transform="translate(893.5 548.0) rotate(-25.6)"/>
<path d="M-6.7,0 Q0,-5.6 6.7,0 Q0,5.6 -6.7,0Z" fill="#0a4a63" transform="translate(906.0 542.0) rotate(-26.1)"/>
<ellipse cx="919.0" cy="535.5" rx="4.7" ry="3.9" fill="#0a4a63" transform="rotate(-27.0 919.0 535.5)"/>
<path d="M-6.7,0 Q0,-5.6 6.7,0 Q0,5.6 -6.7,0Z" fill="#0a4a63" transform="translate(932.5 528.5) rotate(-27.4)"/>
<path d="M-6.8,0 Q0,-5.6 6.8,0 Q0,5.6 -6.8,0Z" fill="#0a4a63" transform="translate(945.0 522.0) rotate(-30.4)"/>
<path d="M-7.0,0 Q0,-5.6 7.0,0 Q0,5.6 -7.0,0Z" fill="#05364b" transform="translate(955.5 515.0) rotate(-33.1)"/>
<ellipse cx="968.0" cy="507.0" rx="4.7" ry="3.9" fill="#05364b" transform="rotate(-25.3 968.0 507.0)"/>
<ellipse cx="982.0" cy="502.5" rx="4.0" ry="3.3" fill="#a9dfe2" transform="rotate(-12.4 982.0 502.5)"/>
<path d="M-4.5,0 Q0,-4.5 4.5,0 Q0,4.5 -4.5,0Z" fill="#9fdbe0" transform="translate(993.0 501.5) rotate(-4.9)"/>
<path d="M-4.8,0 Q0,-4.5 4.8,0 Q0,4.5 -4.8,0Z" fill="#9fdbe0" transform="translate(1005.5 500.5) rotate(-11.3)"/>
<path d="M-6.3,0 Q0,-5.6 6.3,0 Q0,5.6 -6.3,0Z" fill="#25aeb0" transform="translate(1023.0 495.5) rotate(-18.4)"/>
<path d="M-6.5,0 Q0,-5.6 6.5,0 Q0,5.6 -6.5,0Z" fill="#25aeb0" transform="translate(1037.0 490.0) rotate(-23.1)"/>
<path d="M-6.6,0 Q0,-5.6 6.6,0 Q0,5.6 -6.6,0Z" fill="#25aeb0" transform="translate(1050.0 484.0) rotate(-25.6)"/>
<path d="M-6.7,0 Q0,-5.6 6.7,0 Q0,5.6 -6.7,0Z" fill="#25aeb0" transform="translate(1062.0 478.0) rotate(-27.9)"/>
<ellipse cx="1075.5" cy="470.5" rx="4.7" ry="3.9" fill="#1a8f9c" transform="rotate(-30.1 1075.5 470.5)"/>
<path d="M-6.9,0 Q0,-5.6 6.9,0 Q0,5.6 -6.9,0Z" fill="#25aeb0" transform="translate(1087.0 463.5) rotate(-30.6)"/>
<path d="M-6.9,0 Q0,-5.6 6.9,0 Q0,5.6 -6.9,0Z" fill="#25aeb0" transform="translate(1100.0 456.0) rotate(-31.3)"/>
<path d="M-6.9,0 Q0,-5.6 6.9,0 Q0,5.6 -6.9,0Z" fill="#25aeb0" transform="translate(1112.5 448.0) rotate(-31.8)"/>
<path d="M-6.4,0 Q0,-5.6 6.4,0 Q0,5.6 -6.4,0Z" fill="#3cc0c2" transform="translate(1125.0 440.5) rotate(-20.0)"/>
<ellipse cx="1140.0" cy="438.0" rx="4.7" ry="3.9" fill="#0a4a63" transform="rotate(-3.1 1140.0 438.0)"/>
<path d="M-5.7,0 Q0,-5.6 5.7,0 Q0,5.6 -5.7,0Z" fill="#0a4a63" transform="translate(1153.0 439.0) rotate(5.5)"/>
<path d="M-5.8,0 Q0,-5.6 5.8,0 Q0,5.6 -5.8,0Z" fill="#0a4a63" transform="translate(1166.0 440.5) rotate(8.7)"/>
<path d="M-5.8,0 Q0,-5.6 5.8,0 Q0,5.6 -5.8,0Z" fill="#0a4a63" transform="translate(1179.0 443.0) rotate(8.6)"/>
<ellipse cx="1192.5" cy="444.5" rx="4.7" ry="3.9" fill="#0a4a63" transform="rotate(-10.9 1192.5 444.5)"/>
<path d="M-6.8,0 Q0,-5.6 6.8,0 Q0,5.6 -6.8,0Z" fill="#0a4a63" transform="translate(1205.0 438.0) rotate(-28.9)"/>
<path d="M-6.9,0 Q0,-5.6 6.9,0 Q0,5.6 -6.9,0Z" fill="#0a4a63" transform="translate(1217.0 431.0) rotate(-32.0)"/>
<path d="M-7.0,0 Q0,-5.6 7.0,0 Q0,5.6 -7.0,0Z" fill="#0a4a63" transform="translate(1229.0 423.0) rotate(-34.2)"/>
<ellipse cx="1240.5" cy="415.0" rx="4.7" ry="3.9" fill="#0a4a63" transform="rotate(-28.4 1240.5 415.0)"/>
<path d="M-6.6,0 Q0,-5.6 6.6,0 Q0,5.6 -6.6,0Z" fill="#0a4a63" transform="translate(1253.0 410.0) rotate(-25.2)"/>
<path d="M-6.7,0 Q0,-5.6 6.7,0 Q0,5.6 -6.7,0Z" fill="#0a4a63" transform="translate(1266.0 403.0) rotate(-27.8)"/>
<ellipse cx="1279.5" cy="396.0" rx="4.7" ry="3.9" fill="#0a4a63" transform="rotate(-24.0 1279.5 396.0)"/>
<path d="M-6.2,0 Q0,-5.6 6.2,0 Q0,5.6 -6.2,0Z" fill="#0a4a63" transform="translate(1293.0 391.0) rotate(-15.3)"/>
<path d="M-5.9,0 Q0,-5.6 5.9,0 Q0,5.6 -5.9,0Z" fill="#0a4a63" transform="translate(1307.0 388.5) rotate(-10.5)"/>
<ellipse cx="1320.0" cy="386.0" rx="4.7" ry="3.9" fill="#0a4a63" transform="rotate(-10.9 1320.0 386.0)"/>
<path d="M543.9,650.7 Q553,642.5 564.8,637.5 Q572,633 578.5,628.4" fill="none" stroke="#0a4a63" stroke-width="1.3"/>
<ellipse cx="543.9" cy="650.7" rx="3.2" ry="2.6" fill="#0a4a63" transform="rotate(-32.3 543.9 650.7)"/>
<path d="M-5.8,0 Q0,-5.0 5.8,0 Q0,5.0 -5.8,0Z" fill="#0a4a63" transform="translate(564.8 637.5) rotate(-32.8)"/>
<path d="M-0.1,0 Q0,-0.1 0.1,0 Q0,0.1 -0.1,0Z" fill="#0a4a63" transform="translate(578.5 628.4) rotate(-33.6)"/>
<polyline points="476.3,646.6 484.3,639.3 489.0,638.3" fill="none" stroke="#2e4d5f" stroke-width="1.8" stroke-linejoin="round" stroke-linecap="round" />
<path d="M-7.5,0 Q0,-3.2 7.5,0 Q0,3.2 -7.5,0Z" fill="#0a4a63" transform="translate(487.0 638.6) rotate(-3.2)"/>
<path d="M-7.5,0 Q0,-3.2 7.5,0 Q0,3.2 -7.5,0Z" fill="#0a4a63" transform="translate(494.2 638.2) rotate(-3.2)"/>
<text transform="translate(101.6 40.2) scale(0.88 1)" class="v" textLength="61.8" lengthAdjust="spacing">S5015</text>
<text x="251" y="543" class="v" textLength="46.5" lengthAdjust="spacingAndGlyphs">16 15</text>
<text x="378.7" y="659.5" class="v" textLength="46.9" lengthAdjust="spacingAndGlyphs" style="font-size:17.5px;">2 1o4</text>
<text x="453.6" y="608.3" class="v" textLength="47.4" lengthAdjust="spacingAndGlyphs">310%</text>
<text x="532.7" y="430.5" class="v" textLength="31.3" lengthAdjust="spacingAndGlyphs">15 8</text>
<text x="679.7" y="548" class="v" textLength="38.3" lengthAdjust="spacingAndGlyphs">10%</text>
<text transform="translate(662.7 644) scale(0.88 1)" class="v" textLength="64.0" lengthAdjust="spacing">23914</text>
<text x="814" y="262.7" class="v" textLength="37.0" lengthAdjust="spacingAndGlyphs">11%</text>
<text x="958" y="448" class="v" textLength="47.0" lengthAdjust="spacingAndGlyphs">2S 12</text>
<text x="1121.5" y="418.5" class="v" textLength="33.0" lengthAdjust="spacingAndGlyphs">19%</text>
<text x="1105" y="525" class="v" textLength="52.5" lengthAdjust="spacingAndGlyphs" style="font-size:20.5px;">2907</text>
<text x="1105" y="577.5" class="v" textLength="47.5" lengthAdjust="spacingAndGlyphs" style="fill:#c4f0f0;stroke:none;">4S1%</text>
<text transform="translate(1259.5 580) scale(0.88 1)" class="v" textLength="63.9" lengthAdjust="spacing">S1817</text>
<text x="1273" y="375.5" class="v" textLength="19.7" lengthAdjust="spacingAndGlyphs">92</text>
<text x="90" y="729" class="x" textLength="80.7" lengthAdjust="spacingAndGlyphs">Moesll Scct</text>
<text x="245" y="729" class="x" textLength="53.7" lengthAdjust="spacingAndGlyphs">Wes Bis</text>
<text x="366.5" y="729" class="x" textLength="78.0" lengthAdjust="spacingAndGlyphs">Mvevl Sact</text>
<text x="517.5" y="729" class="x" textLength="59.0" lengthAdjust="spacingAndGlyphs">Forit Brs</text>
<text x="653" y="729" class="x" textLength="76.0" lengthAdjust="spacingAndGlyphs">Meofl Sant</text>
<text x="800" y="729" class="x" textLength="65.5" lengthAdjust="spacingAndGlyphs">Wew Scct</text>
<text x="946" y="729" class="x" textLength="75.7" lengthAdjust="spacingAndGlyphs">Meu/l Serft</text>
<text x="1094.5" y="729" class="x" textLength="71.5" lengthAdjust="spacingAndGlyphs">MreırlStct</text>
<text x="1252" y="729" class="x" textLength="57.5" lengthAdjust="spacingAndGlyphs">Tlyd Dar</text>
<text transform="translate(1364.8 89.5) scale(0.9 1)" class="r" textLength="44.2" lengthAdjust="spacing">1G%</text>
<text transform="translate(1364.8 151.0) scale(0.9 1)" class="r" textLength="44.2" lengthAdjust="spacing">0.1%</text>
<text transform="translate(1364.8 212.0) scale(0.9 1)" class="r" textLength="44.2" lengthAdjust="spacing">0.4%</text>
<text transform="translate(1364.8 272.5) scale(0.9 1)" class="r" textLength="44.2" lengthAdjust="spacing">0.4%</text>
<text transform="translate(1364.8 332.5) scale(0.9 1)" class="r" textLength="44.2" lengthAdjust="spacing">0.4%</text>
<text transform="translate(1364.8 392.5) scale(0.9 1)" class="r" textLength="44.2" lengthAdjust="spacing">0.1%</text>
<text transform="translate(1364.8 454.5) scale(0.9 1)" class="r" textLength="44.2" lengthAdjust="spacing">0.4%</text>
<text transform="translate(1364.8 514.0) scale(0.9 1)" class="r" textLength="44.2" lengthAdjust="spacing">0c1.%</text>
<text transform="translate(1364.8 573.5) scale(0.9 1)" class="r" textLength="44.2" lengthAdjust="spacing">0.8%</text>
<text class="t" transform="translate(76.8 66) rotate(-90)" textLength="14.5" lengthAdjust="spacingAndGlyphs" style="font-size:12px">ıo</text>
<text class="t" transform="translate(78.3 124) rotate(-90)" textLength="33.4" lengthAdjust="spacingAndGlyphs">l8 Zol</text>
<text class="t" transform="translate(78.3 185.7) rotate(-90)" textLength="31.7" lengthAdjust="spacingAndGlyphs">lS Zoı</text>
<text class="t" transform="translate(78.3 245.6) rotate(-90)" textLength="29.6" lengthAdjust="spacingAndGlyphs">o Zo</text>
<text class="t" transform="translate(78.3 308) rotate(-90)" textLength="31.0" lengthAdjust="spacingAndGlyphs">l8 lo</text>
<text class="t" transform="translate(78.3 368.6) rotate(-90)" textLength="31.0" lengthAdjust="spacingAndGlyphs">ıo lo</text>
<text class="t" transform="translate(78.3 432) rotate(-90)" textLength="34.0" lengthAdjust="spacingAndGlyphs">ıS lS</text>
<text class="t" transform="translate(78.3 491.5) rotate(-90)" textLength="33.5" lengthAdjust="spacingAndGlyphs">ıo Zo</text>
<text class="t" transform="translate(78.3 551) rotate(-90)" textLength="26.0" lengthAdjust="spacingAndGlyphs">b Zo</text>
<text class="t" transform="translate(78.3 618) rotate(-90)" textLength="35.0" lengthAdjust="spacingAndGlyphs">ıs ıZo</text>
<text class="t" transform="translate(78.5 677.5) rotate(-90)" textLength="31.0" lengthAdjust="spacingAndGlyphs" style="font-size:17px">D ıs</text>
<text class="ti" transform="translate(57.3 229.5) rotate(-90)" textLength="35.5" lengthAdjust="spacingAndGlyphs">nıl\</text>
<text class="ti" transform="translate(57.3 283.7) rotate(-90)" textLength="22.9" lengthAdjust="spacingAndGlyphs">ßin</text>
<text class="ti" transform="translate(57.3 328) rotate(-90)" textLength="32.2" lengthAdjust="spacingAndGlyphs">Rer</text>
<text class="ti" transform="translate(57.3 360.5) rotate(-90)" textLength="22.9" lengthAdjust="spacingAndGlyphs">cn</text>
<text class="ti" transform="translate(57.3 403.6) rotate(-90)" textLength="36.6" lengthAdjust="spacingAndGlyphs">aaa</text>
<text class="ti" transform="translate(57.3 455) rotate(-90)" textLength="46.0" lengthAdjust="spacingAndGlyphs">Pcar</text>
<text class="ti" transform="translate(57.3 588.6) rotate(-90)" textLength="40.6" lengthAdjust="spacingAndGlyphs">OaN</text>
</svg></body></html>
